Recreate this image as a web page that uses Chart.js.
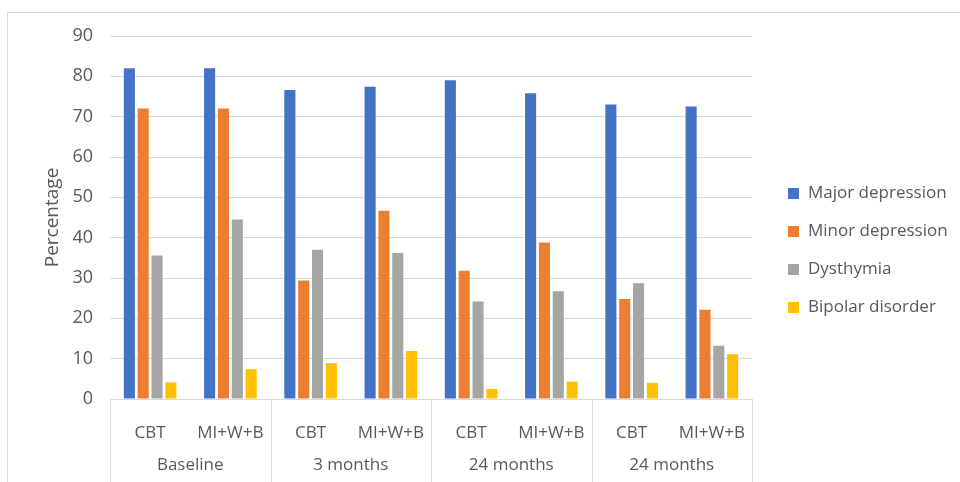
<!DOCTYPE html>
<html>
<head>
<meta charset="utf-8">
<script src="https://cdn.jsdelivr.net/npm/chart.js@4/dist/chart.umd.min.js"></script>
<style>
  html, body { margin: 0; padding: 0; background: #ffffff; overflow: hidden; }
  #frame { position: absolute; left: 7px; top: 12px; width: 1000px; height: 1000px; border: 1px solid #d9d9d9; box-sizing: border-box; }
  #wrap { position: absolute; left: 0; top: 0; width: 960px; height: 482px; }
</style>
</head>
<body>
<div id="frame"></div>
<div id="wrap"><canvas id="c"></canvas></div>
<script>
// ---- Data ----
const groups = ['Baseline', '3 months', '24 months', '24 months'];
const treatments = ['CBT', 'MI+W+B'];
const seriesNames = ['Major depression', 'Minor depression', 'Dysthymia', 'Bipolar disorder'];
const majorDepression = [82.0, 82.0, 76.6, 77.4, 79.0, 75.8, 73.0, 72.5];
const minorDepression = [72.0, 72.0, 29.4, 46.7, 31.8, 38.8, 24.8, 22.1];
const dysthymia       = [35.6, 44.5, 37.0, 36.2, 24.2, 26.7, 28.7, 13.2];
const bipolarDisorder = [4.1, 7.4, 8.9, 11.9, 2.5, 4.3, 4.0, 11.1];
const yTicks = { min: 0, max: 90, step: 10 };

// ---- Styles ----
const colors = ['#4472C4', '#ED7D31', '#A5A5A5', '#FFC000'];
const textColor = '#595959';
const gridColor = '#d9d9d9';
const FONT = "'Open Sans', sans-serif";

const labels = [];
groups.forEach(() => treatments.forEach(t => labels.push(t)));
const seriesValues = [majorDepression, minorDepression, dysthymia, bipolarDisorder];

const groupPlugin = {
  id: 'groupAxis',
  afterDraw(chart) {
    const ctx = chart.ctx;
    const xs = chart.scales.x;
    const area = chart.chartArea;
    const n = treatments.length;
    const half = (xs.getPixelForValue(1) - xs.getPixelForValue(0)) / 2;
    ctx.save();
    ctx.strokeStyle = gridColor;
    ctx.lineWidth = 1;
    for (let g = 0; g <= groups.length; g++) {
      let x;
      if (g < groups.length) x = xs.getPixelForValue(g * n) - half;
      else x = xs.getPixelForValue(g * n - 1) + half;
      x = Math.round(x) + 0.5;
      ctx.beginPath();
      ctx.moveTo(x, area.bottom);
      ctx.lineTo(x, chart.height);
      ctx.stroke();
    }
    ctx.fillStyle = textColor;
    ctx.font = '17px ' + FONT;
    ctx.textAlign = 'center';
    ctx.textBaseline = 'middle';
    groups.forEach((gname, g) => {
      const cx = (xs.getPixelForValue(g * n) + xs.getPixelForValue(g * n + n - 1)) / 2;
      ctx.fillText(gname, cx, 465);
    });
    // legend
    const lx = area.right + 36;
    chart.data.datasets.forEach((ds, i) => {
      const cy = 193.5 + i * 38;
      ctx.fillStyle = ds.backgroundColor;
      ctx.fillRect(lx, cy - 5.5, 11, 11);
      ctx.fillStyle = textColor;
      ctx.textAlign = 'left';
      ctx.fillText(ds.label, lx + 20, cy);
    });
    ctx.restore();
  }
};

new Chart(document.getElementById('c'), {
  type: 'bar',
  data: {
    labels: labels,
    datasets: seriesNames.map((name, i) => ({
      label: name,
      data: seriesValues[i],
      backgroundColor: colors[i],
      borderWidth: 0,
      categoryPercentage: 0.69,
      barPercentage: 0.8
    }))
  },
  options: {
    responsive: true,
    maintainAspectRatio: false,
    devicePixelRatio: 1,
    animation: false,
    layout: { padding: { left: 37, right: 208, top: 36, bottom: 0 } },
    plugins: { legend: { display: false }, tooltip: { enabled: false } },
    scales: {
      x: {
        grid: { display: false },
        border: { display: true, color: gridColor, width: 1 },
        ticks: { color: textColor, font: { family: FONT, size: 17 }, padding: 16, maxRotation: 0, autoSkip: false },
        afterFit(scale) { scale.height = 83; }
      },
      y: {
        min: yTicks.min, max: yTicks.max,
        ticks: { stepSize: yTicks.step, color: textColor, font: { family: FONT, size: 18 }, padding: 17 },
        grid: { color: gridColor, drawTicks: false, lineWidth: 1 },
        border: { display: false },
        title: { display: true, text: 'Percentage', color: textColor, font: { family: FONT, size: 19 }, padding: { top: 4, bottom: 4 } },
        afterFit(scale) { scale.width = 73; }
      }
    }
  },
  plugins: [groupPlugin]
});
</script>
</body>
</html>
